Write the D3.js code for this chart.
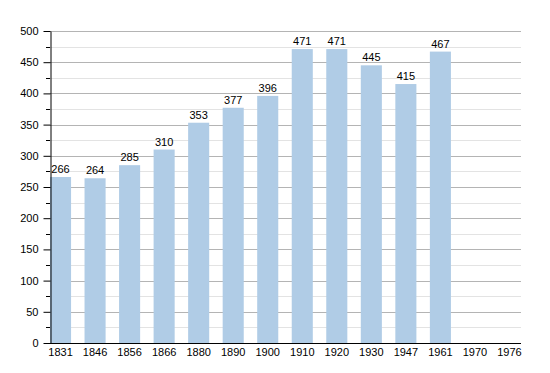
<!DOCTYPE html>
<html><head><meta charset="utf-8">
<script src="https://cdn.jsdelivr.net/npm/d3@7"></script>
<style>body{margin:0;background:#fff}svg{display:block}text{font-family:"Liberation Sans",Arial,sans-serif}</style>
</head><body><svg width="550" height="373"></svg>
<script>
const years = ["1831","1846","1856","1866","1880","1890","1900","1910","1920","1930","1947","1961","1970","1976"];
const population = [266,264,285,310,353,377,396,471,471,445,415,467,null,null];
const yTicks = [0,50,100,150,200,250,300,350,400,450,500];

(function(){
const svg = d3.select("svg");
const pLeft = 50, pRight = 521, pTop = 31, pBottom = 343;
const x = d3.scaleBand().domain(years).range([pLeft, 520]).paddingInner(0.39).paddingOuter(0).align(0);
const y = d3.scaleLinear().domain([0,500]).range([pBottom, pTop]);
const barW = x.bandwidth();

// minor grid
svg.append("g").selectAll("line").data(d3.range(25,500,50)).join("line")
  .attr("x1",pLeft).attr("x2",pRight).attr("y1",d=>Math.round(y(d))+0.5).attr("y2",d=>Math.round(y(d))+0.5)
  .attr("stroke","#e3e3e3").attr("stroke-width",1);
// major grid
svg.append("g").selectAll("line").data(yTicks.slice(1)).join("line")
  .attr("x1",pLeft).attr("x2",pRight).attr("y1",d=>Math.round(y(d))+0.5).attr("y2",d=>Math.round(y(d))+0.5)
  .attr("stroke","#b4b4b4").attr("stroke-width",1);

// bars
const data = years.map((yr,i)=>({yr, v:population[i]})).filter(d=>d.v!=null);
svg.append("g").selectAll("rect").data(data).join("rect")
  .attr("x",d=>x(d.yr)).attr("width",barW)
  .attr("y",d=>y(d.v)).attr("height",d=>pBottom-y(d.v))
  .attr("fill","#b0cce6");
svg.append("g").selectAll("text").data(data).join("text")
  .attr("x",d=>x(d.yr)+barW/2).attr("y",d=>y(d.v)-4)
  .attr("text-anchor","middle").attr("font-size",11).attr("fill","#000")
  .text(d=>d.v);

// y axis
const yAxis = d3.axisLeft(y).tickValues(yTicks).tickSize(7).tickSizeOuter(0).tickPadding(5);
const gy = svg.append("g").attr("transform",`translate(${pLeft+0.5},0)`).call(yAxis);
gy.select(".domain").attr("stroke","#000");
gy.selectAll(".tick text").attr("font-size",11).attr("font-family","Liberation Sans, Arial, sans-serif").attr("fill","#000");
gy.selectAll(".tick line").attr("stroke","#000");
svg.append("g").selectAll("line").data(d3.range(25,500,50)).join("line")
  .attr("x1",pLeft-4).attr("x2",pLeft).attr("y1",d=>Math.round(y(d))+0.5).attr("y2",d=>Math.round(y(d))+0.5)
  .attr("stroke","#000");

// x axis
const xAxis = d3.axisBottom(x).tickSize(0).tickPadding(5);
const gx = svg.append("g").attr("transform",`translate(0,${pBottom+0.5})`).call(xAxis);
gx.select(".domain").attr("stroke","#000").attr("d",`M${pLeft},0H${pRight}`);
gx.selectAll(".tick").attr("transform",d=>`translate(${x(d)+barW/2},0)`);
gx.selectAll(".tick text").attr("font-size",11).attr("font-family","Liberation Sans, Arial, sans-serif").attr("fill","#000");
})();
</script></body></html>
